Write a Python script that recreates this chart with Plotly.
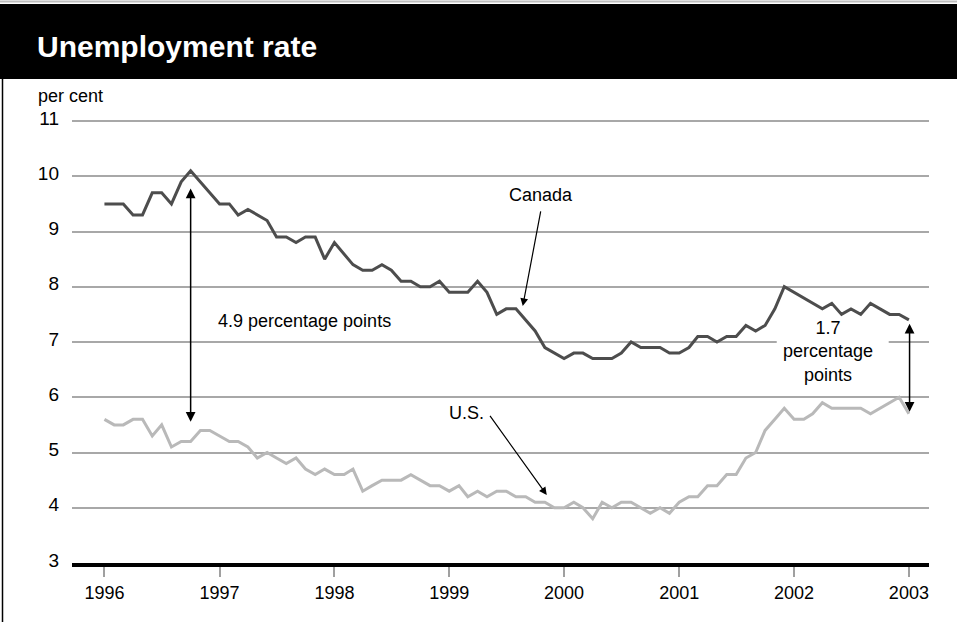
import pandas as pd
import plotly.graph_objects as go

# ---- data (monthly, Jan 1996 - Jan 2003) ----
start_month = "1996-01-01"
n_months = 85
canada = [
    9.5, 9.5, 9.5, 9.3, 9.3, 9.7, 9.7, 9.5, 9.9, 10.1, 9.9, 9.7,
    9.5, 9.5, 9.3, 9.4, 9.3, 9.2, 8.9, 8.9, 8.8, 8.9, 8.9, 8.5,
    8.8, 8.6, 8.4, 8.3, 8.3, 8.4, 8.3, 8.1, 8.1, 8.0, 8.0, 8.1,
    7.9, 7.9, 7.9, 8.1, 7.9, 7.5, 7.6, 7.6, 7.4, 7.2, 6.9, 6.8,
    6.7, 6.8, 6.8, 6.7, 6.7, 6.7, 6.8, 7.0, 6.9, 6.9, 6.9, 6.8,
    6.8, 6.9, 7.1, 7.1, 7.0, 7.1, 7.1, 7.3, 7.2, 7.3, 7.6, 8.0,
    7.9, 7.8, 7.7, 7.6, 7.7, 7.5, 7.6, 7.5, 7.7, 7.6, 7.5, 7.5,
    7.4,
]
us = [
    5.6, 5.5, 5.5, 5.6, 5.6, 5.3, 5.5, 5.1, 5.2, 5.2, 5.4, 5.4,
    5.3, 5.2, 5.2, 5.1, 4.9, 5.0, 4.9, 4.8, 4.9, 4.7, 4.6, 4.7,
    4.6, 4.6, 4.7, 4.3, 4.4, 4.5, 4.5, 4.5, 4.6, 4.5, 4.4, 4.4,
    4.3, 4.4, 4.2, 4.3, 4.2, 4.3, 4.3, 4.2, 4.2, 4.1, 4.1, 4.0,
    4.0, 4.1, 4.0, 3.8, 4.1, 4.0, 4.1, 4.1, 4.0, 3.9, 4.0, 3.9,
    4.1, 4.2, 4.2, 4.4, 4.4, 4.6, 4.6, 4.9, 5.0, 5.4, 5.6, 5.8,
    5.6, 5.6, 5.7, 5.9, 5.8, 5.8, 5.8, 5.8, 5.7, 5.8, 5.9, 6.0,
    5.7,
]
y_ticks = [3, 4, 5, 6, 7, 8, 9, 10, 11]
year_ticks = ["1996", "1997", "1998", "1999", "2000", "2001", "2002", "2003"]

dates = pd.date_range(start_month, periods=n_months, freq="MS")
base = pd.Timestamp(start_month)


def m2d(m):
    """fractional month index -> date string (for annotation placement)"""
    whole = int(m // 1)
    frac = m - whole
    d0 = base + pd.DateOffset(months=whole)
    d1 = base + pd.DateOffset(months=whole + 1)
    return (d0 + (d1 - d0) * frac).strftime("%Y-%m-%d %H:%M")


W, H = 957, 622
ML, MR, MT, MB = 72, 28, 118, 59
PW, PH = W - ML - MR, H - MT - MB


def px(x):
    return (x - ML) / PW


def py(y):
    return (H - MB - y) / PH


FONT = "Liberation Sans, Arial, sans-serif"

fig = go.Figure()
fig.add_trace(go.Scatter(x=dates, y=us, mode="lines", name="U.S.",
                         line=dict(color="#b9b9b9", width=3), hoverinfo="skip"))
fig.add_trace(go.Scatter(x=dates, y=canada, mode="lines", name="Canada",
                         line=dict(color="#4d4d4d", width=3), hoverinfo="skip"))

shapes = [
    # black title band
    dict(type="rect", xref="paper", yref="paper", x0=px(0), x1=px(W), y0=py(79), y1=py(4),
         fillcolor="black", line=dict(width=0), layer="above"),
    # thin top line
    dict(type="line", xref="paper", yref="paper", x0=px(0), x1=px(W), y0=py(1.5), y1=py(1.5),
         line=dict(color="#bdbdbd", width=2)),
    # left frame line
    dict(type="line", xref="paper", yref="paper", x0=px(2.5), x1=px(2.5), y0=py(79), y1=py(H),
         line=dict(color="black", width=1.5)),
    # white box behind "1.7 percentage points"
    dict(type="rect", xref="x", yref="y", x0=m2d(70.2), x1=m2d(81.9), y0=6.35, y1=7.32,
         fillcolor="white", line=dict(width=0), layer="between"),
]

annotations = [
    dict(text="<b>Unemployment rate</b>", xref="paper", yref="paper", x=px(35), y=py(47),
         xanchor="left", yanchor="middle", showarrow=False,
         font=dict(family=FONT, size=30, color="white")),
    dict(text="per cent", xref="paper", yref="paper", x=px(36), y=py(96),
         xanchor="left", yanchor="middle", showarrow=False,
         font=dict(family=FONT, size=18, color="black")),
    dict(text="Canada", xref="x", yref="y", x=m2d(45.6), y=9.66, showarrow=False,
         font=dict(family=FONT, size=18, color="black")),
    dict(text="", xref="x", yref="y", x=m2d(43.7), y=7.65, axref="x", ayref="y",
         ax=m2d(45.6), ay=9.39, showarrow=True, arrowhead=2, arrowsize=1.3,
         arrowwidth=1.2, arrowcolor="black"),
    dict(text="U.S.", xref="x", yref="y", x=m2d(37.8), y=5.71, showarrow=False,
         font=dict(family=FONT, size=18, color="black")),
    dict(text="", xref="x", yref="y", x=m2d(46.2), y=4.23, axref="x", ayref="y",
         ax=m2d(40.2), ay=5.69, showarrow=True, arrowhead=2, arrowsize=1.3,
         arrowwidth=1.2, arrowcolor="black"),
    dict(text="4.9 percentage points", xref="x", yref="y", x=m2d(11.6), y=7.38,
         xanchor="left", showarrow=False, font=dict(family=FONT, size=18, color="black")),
    dict(text="", xref="x", yref="y", x=m2d(9.0), y=9.78, axref="x", ayref="y",
         ax=m2d(9.0), ay=5.53, showarrow=True, arrowhead=2, startarrowhead=2,
         arrowside="end+start", arrowsize=1.3, startarrowsize=1.3,
         arrowwidth=1.5, arrowcolor="black"),
    dict(text="1.7<br>percentage<br>points", xref="x", yref="y", x=m2d(75.6), y=6.82,
         showarrow=False, align="center",
         font=dict(family=FONT, size=18, color="black")),
    dict(text="", xref="x", yref="y", x=m2d(84.07), y=7.33, axref="x", ayref="y",
         ax=m2d(84.07), ay=5.71, showarrow=True, arrowhead=2, startarrowhead=2,
         arrowside="end+start", arrowsize=1.3, startarrowsize=1.3,
         arrowwidth=1.5, arrowcolor="black"),
]

fig.update_layout(
    width=W, height=H,
    margin=dict(l=ML, r=MR, t=MT, b=MB, pad=0),
    paper_bgcolor="white", plot_bgcolor="white",
    showlegend=False,
    shapes=shapes, annotations=annotations,
    xaxis=dict(
        type="date",
        range=[m2d(-3.37), m2d(86.16)],
        tickvals=[pd.Timestamp(y + "-01-01") for y in year_ticks],
        ticktext=year_ticks,
        showgrid=False, zeroline=False,
        showline=True, linecolor="black", linewidth=4,
        ticks="outside", ticklen=10, tickwidth=1.5, tickcolor="#a0a0a0",
        tickfont=dict(family=FONT, size=18, color="black"),
    ),
    yaxis=dict(
        range=[3, 11.055],
        tickvals=y_ticks,
        showgrid=True, gridcolor="#a8a8a8", gridwidth=1.5,
        zeroline=False, showline=False, ticks="",
        ticklabelstandoff=12, ticklabelshift=-3,
        tickfont=dict(family=FONT, size=19, color="black"),
    ),
)

fig.write_html("out.html", config={"displayModeBar": False},
               post_script="document.body.style.margin='0';")
